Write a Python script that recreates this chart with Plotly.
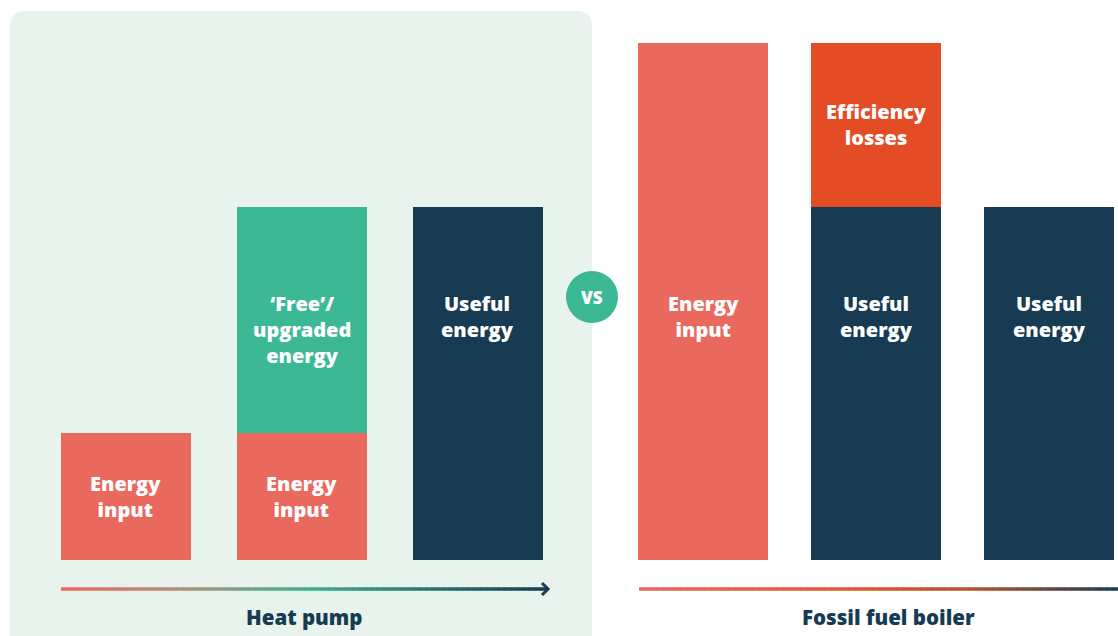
import plotly.graph_objects as go

# ---------------- data ----------------
hp_categories = ["Heat pump: energy input", "Heat pump: input + ambient", "Heat pump: useful energy"]
hp_energy_input = [36, 36, 0]
hp_free_energy = [0, 64, 0]
hp_useful_energy = [0, 0, 100]

boiler_categories = ["Boiler: energy input", "Boiler: useful + losses", "Boiler: useful energy"]
boiler_energy_input = [146.5, 0, 0]
boiler_useful_energy = [0, 100, 100]
boiler_losses = [0, 46.5, 0]

group_titles = ["Heat pump", "Fossil fuel boiler"]

# ---------------- style ----------------
W, H = 1118, 636
SALMON = "#E9695E"
TEAL = "#3DB895"
NAVY = "#173B52"
ORANGE = "#E34C25"
PANEL = "#E8F3EE"
FONT = "Open Sans"
TALL_LABEL_Y = 69

def px(x):
    return x / W

def py(y):
    return 1 - y / H

fig = go.Figure()

bw_left = 130 / 176.2
bw_right = 130 / 173

def add_bar(x, y, color, axis, width):
    fig.add_trace(go.Bar(x=x, y=y, marker=dict(color=color, line=dict(width=0)),
                         width=width, xaxis=axis, yaxis="y", showlegend=False,
                         hoverinfo="skip"))

add_bar(hp_categories, hp_energy_input, SALMON, "x", bw_left)
add_bar(hp_categories, hp_free_energy, TEAL, "x", bw_left)
add_bar(hp_categories, hp_useful_energy, NAVY, "x", bw_left)
add_bar(boiler_categories, boiler_energy_input, SALMON, "x2", bw_right)
add_bar(boiler_categories, boiler_useful_energy, NAVY, "x2", bw_right)
add_bar(boiler_categories, boiler_losses, ORANGE, "x2", bw_right)

annotations = []
lab_font = dict(family=FONT, size=20, color="white", weight=800)

def lab(xref, x, y, text):
    annotations.append(dict(xref=xref, yref="y", x=x, y=y, text=text, showarrow=False,
                            font=lab_font, xanchor="center", yanchor="middle", align="center"))

lab("x", hp_categories[0], hp_energy_input[0] / 2, "Energy<br>input")
lab("x", hp_categories[1], hp_energy_input[1] / 2, "Energy<br>input")
lab("x", hp_categories[1], hp_energy_input[1] + hp_free_energy[1] * 0.46, "‘Free’/<br>upgraded<br>energy")
lab("x", hp_categories[2], TALL_LABEL_Y, "Useful<br>energy")
lab("x2", boiler_categories[0], TALL_LABEL_Y, "Energy<br>input")
lab("x2", boiler_categories[1], TALL_LABEL_Y, "Useful<br>energy")
lab("x2", boiler_categories[1], boiler_useful_energy[1] + boiler_losses[1] / 2, "Efficiency<br>losses")
lab("x2", boiler_categories[2], TALL_LABEL_Y, "Useful<br>energy")

title_font = dict(family=FONT, size=20.5, color=NAVY, weight=800)
# group titles
annotations.append(dict(xref="paper", yref="paper", x=px(304), y=py(617), text=group_titles[0],
                        xanchor="center", yanchor="middle", showarrow=False, font=title_font))
annotations.append(dict(xref="paper", yref="paper", x=px(888), y=py(617), text=group_titles[1],
                        xanchor="center", yanchor="middle", showarrow=False, font=title_font))
# vs
annotations.append(dict(xref="paper", yref="paper", x=px(592), y=py(297), text="VS",
                        xanchor="center", yanchor="middle", showarrow=False,
                        font=dict(family=FONT, size=17, color="white", weight=800)))

shapes = []
# panel
r = 16
x0, x1, y0, y1 = 10, 592, 11, 650
path = (f"M {px(x0)} {py(y1)} L {px(x0)} {py(y0 + r)} "
        f"Q {px(x0)} {py(y0)} {px(x0 + r)} {py(y0)} "
        f"L {px(x1 - r)} {py(y0)} Q {px(x1)} {py(y0)} {px(x1)} {py(y0 + r)} "
        f"L {px(x1)} {py(y1)} Z")
shapes.append(dict(type="path", xref="paper", yref="paper", path=path,
                   fillcolor=PANEL, line=dict(width=0), layer="below"))

def hex2rgb(h):
    h = h.lstrip("#")
    return [int(h[i:i + 2], 16) for i in (0, 2, 4)]

def grad_line(xa, xb, y, stops, n=80):
    for i in range(n):
        t0 = i / n
        t1 = (i + 1) / n
        tm = (t0 + t1) / 2
        for k in range(len(stops) - 1):
            if stops[k][0] <= tm <= stops[k + 1][0]:
                a, b = stops[k], stops[k + 1]
                f = (tm - a[0]) / (b[0] - a[0])
                ca, cb = hex2rgb(a[1]), hex2rgb(b[1])
                c = [round(ca[j] + (cb[j] - ca[j]) * f) for j in range(3)]
                break
        shapes.append(dict(type="line", xref="paper", yref="paper",
                           x0=px(xa + (xb - xa) * t0), x1=px(xa + (xb - xa) * t1 + 0.6),
                           y0=py(y), y1=py(y),
                           line=dict(color=f"rgb({c[0]},{c[1]},{c[2]})", width=3.5)))

grad_line(61, 547, 589, [(0, SALMON), (0.25, "#B0917A"), (0.5, "#3FB08F"), (1, NAVY)])
shapes.append(dict(type="path", xref="paper", yref="paper",
                   path=f"M {px(542)} {py(583)} L {px(548)} {py(589)} L {px(542)} {py(595)}",
                   line=dict(color=NAVY, width=3)))
grad_line(639, 1118, 589, [(0, SALMON), (0.45, "#E0572F"), (0.7, "#B4532F"), (1, NAVY)])

# vs circle
shapes.append(dict(type="circle", xref="paper", yref="paper",
                   x0=px(566), x1=px(618), y0=py(271), y1=py(323),
                   fillcolor=TEAL, line=dict(width=0)))

fig.update_layout(
    width=W, height=H, margin=dict(l=0, r=0, t=0, b=0),
    paper_bgcolor="white", plot_bgcolor="rgba(0,0,0,0)",
    barmode="stack", showlegend=False,
    xaxis=dict(domain=[px(125.5 - 88.1), px(478 + 88.1)], range=[-0.5, 2.5],
               visible=False, fixedrange=True),
    xaxis2=dict(domain=[px(703 - 86.5), 1], range=[-0.5, 2 + (1118 - 1049) / 173],
                visible=False, anchor="y", fixedrange=True),
    yaxis=dict(domain=[0, 1], range=[-76 / 3.53, 560 / 3.53], visible=False, fixedrange=True),
    shapes=shapes, annotations=annotations,
)

fig.write_html("out.html")
